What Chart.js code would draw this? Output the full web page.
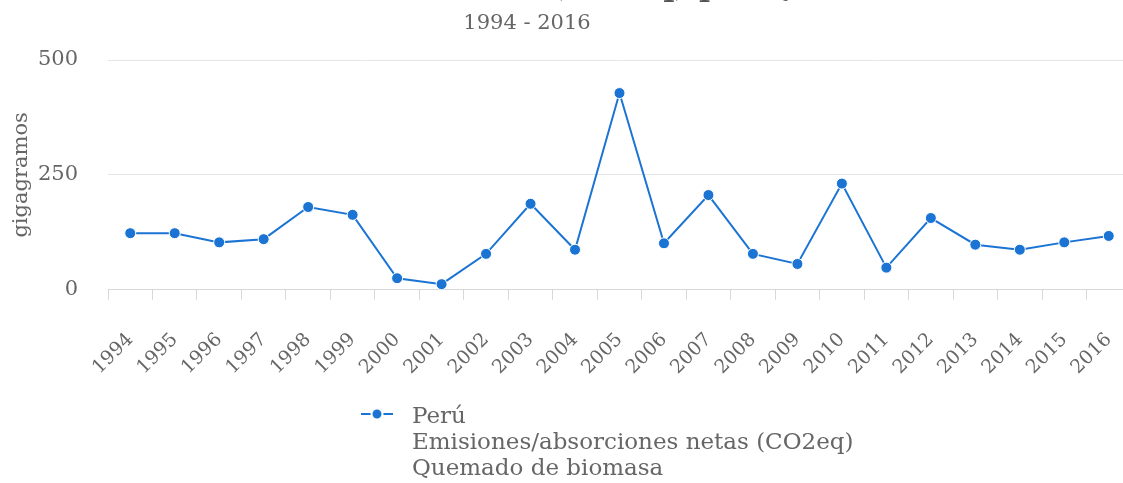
<!DOCTYPE html>
<html lang="es">
<head>
<meta charset="utf-8">
<title>Quemado de biomasa - Perú</title>
<script src="https://cdn.jsdelivr.net/npm/chart.js@4.4.1/dist/chart.umd.min.js"></script>
<style>
    html, body { margin: 0; padding: 0; background: #fff; overflow: hidden; }
    #wrap { position: absolute; left: 0; top: 0; width: 1140px; height: 483px; }
    #legend {
        position: absolute; left: 360px; top: 402px;
        font-family: "DejaVu Serif", serif; font-size: 23px; color: #666;
        line-height: 26px;
    }
    #legend .sym { position: absolute; left: 0; top: 0; width: 34px; height: 26px; }
    #legend .txt { margin-left: 52px; }
</style>
</head>
<body>
<div id="wrap"><canvas id="chart"></canvas></div>
<div id="legend">
    <svg class="sym" viewBox="0 0 34 26">
        <line x1="1" y1="12" x2="33" y2="12" stroke="#1b74d4" stroke-width="2"/>
        <circle cx="17" cy="12" r="5.5" fill="#1b74d4" stroke="#fff" stroke-width="2"/>
    </svg>
    <div class="txt">Perú<br>Emisiones/absorciones netas (CO2eq)<br>Quemado de biomasa</div>
</div>
<script>
// --- Data ---
const years = ['1994', '1995', '1996', '1997', '1998', '1999', '2000', '2001', '2002', '2003', '2004',
    '2005', '2006', '2007', '2008', '2009', '2010', '2011', '2012', '2013', '2014', '2015', '2016'];
const emisiones = [123, 123, 103, 110, 180, 163, 25, 12, 78, 187, 87,
    428, 101, 206, 78, 56, 231, 48, 156, 98, 87, 103, 117];
const yTicks = [0, 250, 500];

const titleText = 'Perú: Emisiones/absorciones netas (CO2eq) por Quemado de biomasa';
const subtitleText = '1994 - 2016';

const FONT = '"DejaVu Serif", serif';
const BLUE = '#1b74d4';

// titles drawn by hand (the original is cropped at the top)
const titlePlugin = {
    id: 'titles',
    afterDraw(chart) {
        const ctx = chart.ctx;
        ctx.save();
        ctx.textAlign = 'center';
        ctx.textBaseline = 'alphabetic';
        ctx.fillStyle = '#555';
        ctx.font = 'bold 30px ' + FONT;
        ctx.fillText(titleText, 540, -4);
        ctx.fillStyle = '#666';
        ctx.font = '21px ' + FONT;
        ctx.textBaseline = 'middle';
        ctx.fillText(subtitleText, 527, 24);
        ctx.restore();
    }
};

new Chart(document.getElementById('chart'), {
    type: 'line',
    data: {
        labels: years,
        datasets: [{
            label: 'Perú',
            data: emisiones,
            borderColor: BLUE,
            backgroundColor: BLUE,
            borderWidth: 2,
            pointRadius: 5.5,
            pointBorderColor: '#fff',
            pointBorderWidth: 1,
            pointBackgroundColor: BLUE,
            tension: 0
        }]
    },
    options: {
        responsive: true,
        maintainAspectRatio: false,
        animation: false,
        layout: { padding: { top: 60, right: 9, bottom: 75, left: 5 } },
        plugins: {
            legend: { display: false },
            tooltip: { enabled: false }
        },
        scales: {
            x: {
                offset: true,
                border: { color: '#d8d8d8', width: 1 },
                grid: { drawOnChartArea: false, drawTicks: true, tickLength: 10, color: '#d8d8d8', offset: true },
                ticks: {
                    color: '#666',
                    font: { family: FONT, size: 19 },
                    maxRotation: 45, minRotation: 45,
                    padding: 29,
                    autoSkip: false
                },
                // rotated labels fit inside the plot already, no extra side padding
                afterFit: (axis) => { axis.paddingLeft = 0; axis.paddingRight = 0; }
            },
            y: {
                min: 0, max: 500,
                afterBuildTicks: (axis) => { axis.ticks = yTicks.map(v => ({ value: v })); },
                afterFit: (axis) => { axis.width = 103; },
                border: { display: false },
                grid: { color: '#e6e6e6', drawTicks: false },
                ticks: {
                    color: '#666',
                    font: { family: FONT, size: 21 },
                    padding: 30
                },
                title: {
                    display: true,
                    text: 'gigagramos',
                    color: '#666',
                    font: { family: FONT, size: 21 },
                    padding: { top: 4, bottom: 4 }
                }
            }
        }
    },
    plugins: [titlePlugin]
});
</script>
</body>
</html>
